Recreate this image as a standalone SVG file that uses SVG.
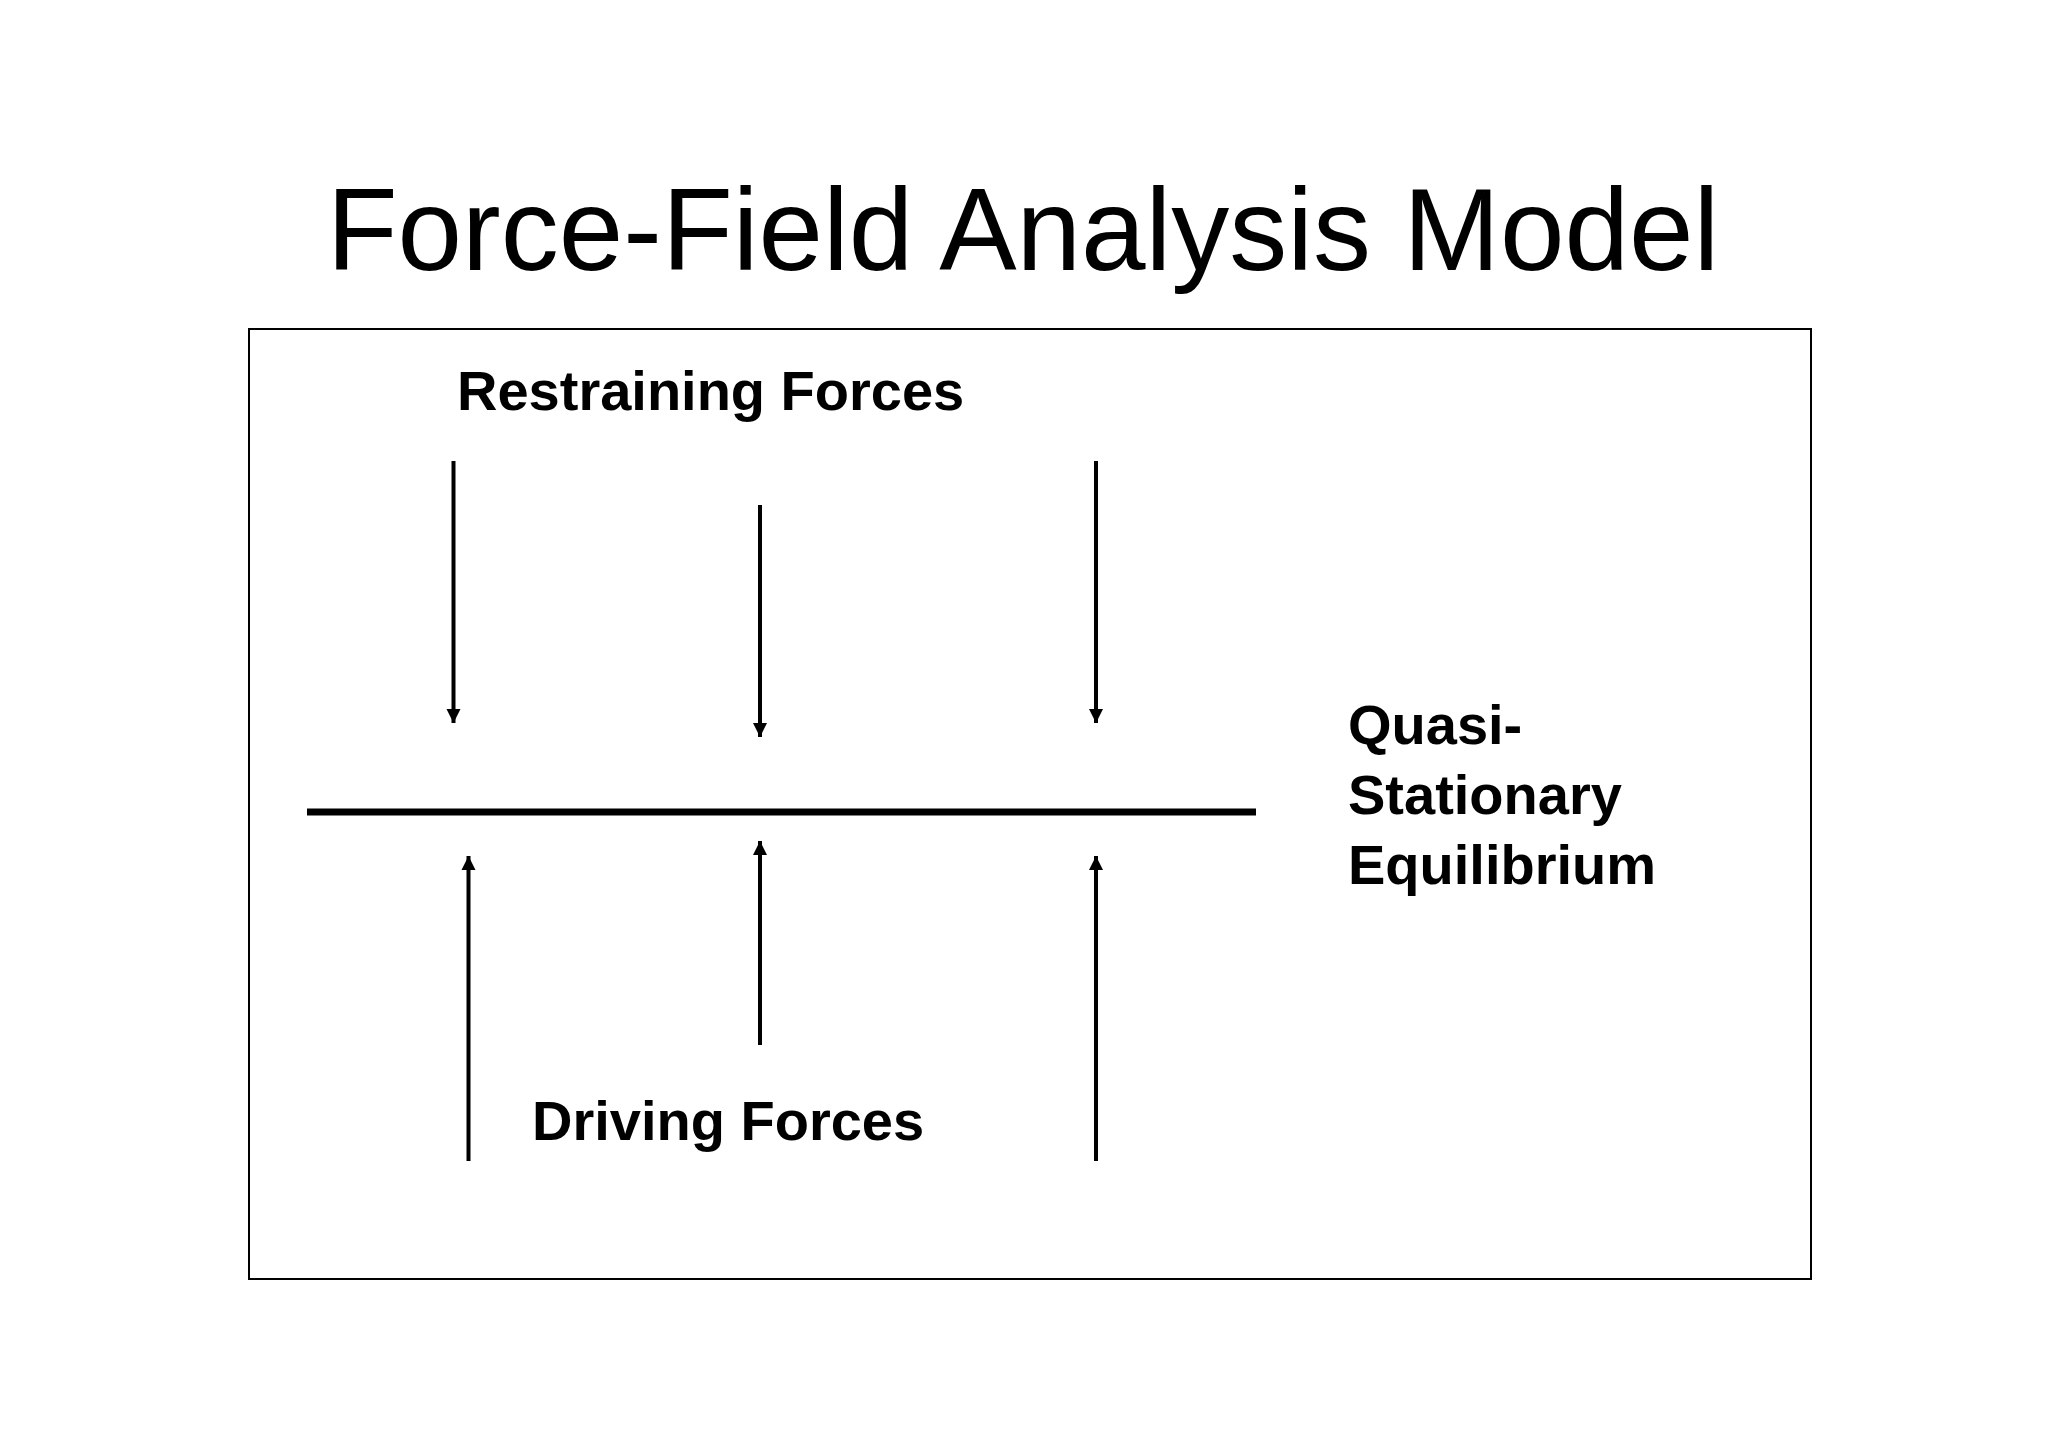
<svg xmlns="http://www.w3.org/2000/svg" width="2048" height="1448" viewBox="0 0 2048 1448">
<style>
.t{font-family:"Liberation Sans",Arial,sans-serif;fill:#000}
.b{font-weight:bold;font-size:56px}
.a{stroke:#000;stroke-width:4;fill:none}
</style>
<defs><marker id="ah" viewBox="0 0 14 16" refX="14" refY="8" markerWidth="14" markerHeight="16" markerUnits="userSpaceOnUse" orient="auto"><path d="M0,1 L14,8 L0,15 Z" fill="#000"/></marker></defs>
<rect width="2048" height="1448" fill="#fff"/>
<text id="title" class="t" x="1023" y="270" font-size="116" text-anchor="middle">Force-Field Analysis Model</text>
<rect id="frame" x="249" y="329" width="1562" height="950" fill="none" stroke="#000" stroke-width="2"/>
<g id="restraining"><text class="t b" x="457" y="410">Restraining Forces</text></g>
<g id="driving"><text class="t b" x="532" y="1140">Driving Forces</text></g>
<g id="equilibrium"><text class="t b" x="1348" y="744">Quasi-</text><text class="t b" x="1348" y="814">Stationary</text><text class="t b" x="1348" y="884">Equilibrium</text></g>
<g id="line"><line x1="307" y1="812" x2="1256" y2="812" stroke="#000" stroke-width="7"/></g>
<g id="connectors">
<line class="a" x1="453.5" y1="461" x2="453.5" y2="723" marker-end="url(#ah)"/>
<line class="a" x1="760" y1="505" x2="760" y2="737" marker-end="url(#ah)"/>
<line class="a" x1="1096" y1="461" x2="1096" y2="723" marker-end="url(#ah)"/>
<line class="a" x1="468.5" y1="1161" x2="468.5" y2="856" marker-end="url(#ah)"/>
<line class="a" x1="760" y1="1045" x2="760" y2="841" marker-end="url(#ah)"/>
<line class="a" x1="1096" y1="1161" x2="1096" y2="856" marker-end="url(#ah)"/>
</g>
</svg>
